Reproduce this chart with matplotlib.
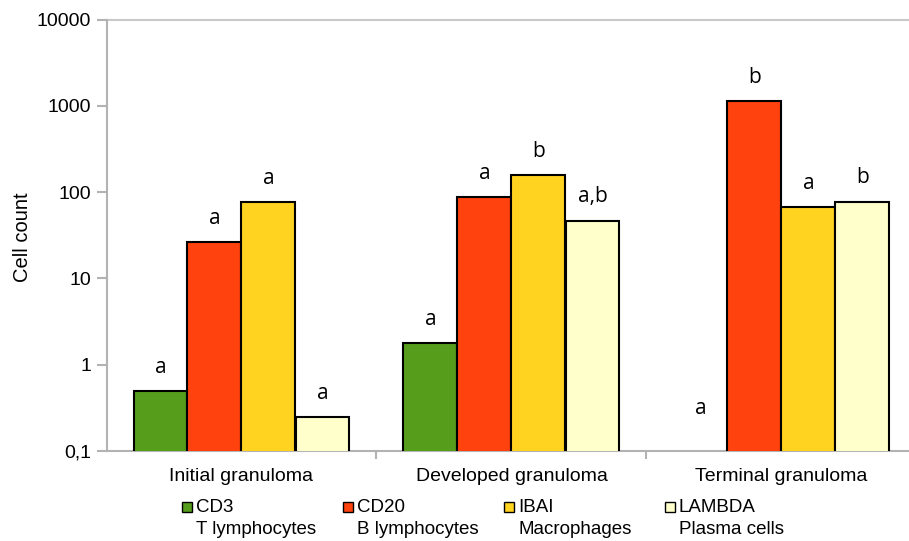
import numpy as np
import matplotlib.pyplot as plt
from matplotlib.patches import Rectangle

# data
groups = ["Initial granuloma", "Developed granuloma", "Terminal granuloma"]
markers = ["CD3", "CD20", "IBAI", "LAMBDA"]
cell_types = ["T lymphocytes", "B lymphocytes", "Macrophages", "Plasma cells"]
cd3 = [0.5, 1.77, np.nan]
cd20 = [26.7, 89, 1140]
ibai = [77.6, 158, 67]
lambda_ = [0.25, 47, 78]
letters = [["a", "a", "a"], ["a", "a", "b"], ["a", "b", "a"], ["a", "a,b", "b"]]

colors = ["#579D1C", "#FF420E", "#FFD320", "#FFFFCC"]
series = [cd3, cd20, ibai, lambda_]

plt.rcParams['font.family'] = ['Liberation Sans', 'DejaVu Sans']

fig = plt.figure(figsize=(9.09, 5.41), dpi=100)
W, H = 909, 541
ax = fig.add_axes([106.5 / W, 1 - 451 / H, 810 / W, (451 - 19.7) / H])

x = np.arange(len(groups))
width = 0.2
for i, (vals, col) in enumerate(zip(series, colors)):
    pos = x + (i - 1.5) * width
    ax.bar(pos, vals, width, color=col, edgecolor="black", linewidth=1.5, zorder=3)
    for p, v, lab in zip(pos, vals, letters[i]):
        if np.isnan(v):
            # no bar drawn (zero on a log axis), letter sits above the axis
            ax.annotate(lab, (p, 0.1), xytext=(0, 27), textcoords="offset points",
                        ha="center", va="baseline", fontsize=15, family="Open Sans")
        else:
            ax.annotate(lab, (p, v), xytext=(0, 13), textcoords="offset points",
                        ha="center", va="baseline", fontsize=15, family="Open Sans")

ax.set_yscale("log")
ax.set_ylim(0.1, 10000)
ax.set_xlim(-0.5, 2.5)
ax.set_yticks([0.1, 1, 10, 100, 1000, 10000])
ax.set_yticklabels(["0,1", "1", "10", "100", "1000", "10000"])
ax.yaxis.set_minor_locator(plt.NullLocator())
ax.tick_params(axis="y", length=7, width=1.5, color="#b3b3b3", labelsize=14, pad=4)

ax.set_xticks([0.5, 1.5])
ax.set_xticklabels([])
ax.set_xticks(x, minor=True)
ax.set_xticklabels(groups, minor=True, fontsize=14)
ax.tick_params(axis="x", which="major", length=6, width=1.5, color="#b3b3b3")
ax.tick_params(axis="x", which="minor", length=0, pad=12)

for s in ["top", "right"]:
    ax.spines[s].set_visible(False)
for s in ["left", "bottom"]:
    ax.spines[s].set_color("#b3b3b3")
    ax.spines[s].set_linewidth(1.5)
ax.axhline(10000, color="#c8c8c8", linewidth=1.5, clip_on=False, zorder=1)

fig.text(23 / W, 1 - 237 / H, "Cell count", rotation=90, ha="center", va="center", fontsize=14.5)

# legend drawn by hand: marker name on the first line, cell type below
for k, (m, ct, col) in enumerate(zip(markers, cell_types, colors)):
    x0 = 182 + k * 161
    fig.patches.append(Rectangle((x0 / W, 1 - 512 / H), 10 / W, 10 / H,
                                 transform=fig.transFigure, facecolor=col,
                                 edgecolor="black", linewidth=1))
    fig.text((x0 + 14) / W, 1 - 507 / H, m, ha="left", va="center", fontsize=13.5)
    fig.text((x0 + 14) / W, 1 - 530 / H, ct, ha="left", va="center", fontsize=13.5)

fig.savefig("out.png", dpi=100)
